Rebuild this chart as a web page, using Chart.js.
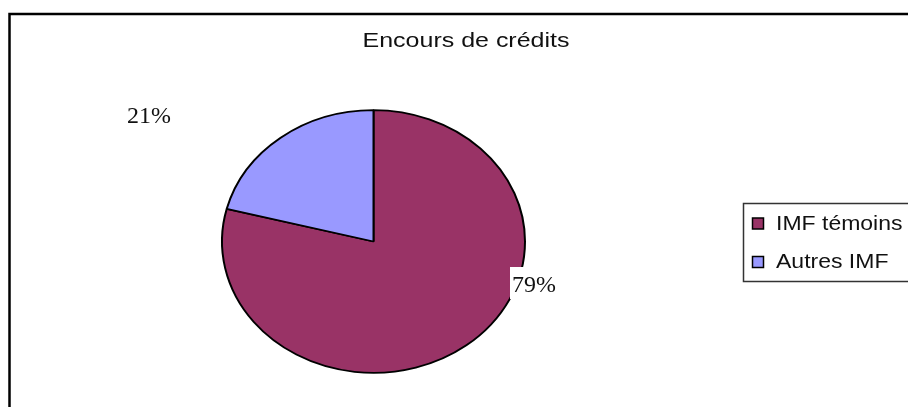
<!DOCTYPE html>
<html>
<head>
<meta charset="utf-8">
<script src="https://cdn.jsdelivr.net/npm/chart.js@4"></script>
<style>
  html, body { margin: 0; padding: 0; background: #fff; overflow: hidden; }
  canvas { display: block; }
</style>
</head>
<body>
<canvas id="chart1" width="908" height="407"></canvas>
<script>
const labels = ["IMF témoins", "Autres IMF"];
const values = [79, 21];
const colors = ["#993366", "#9999FF"];
const pctLabels = ["79%", "21%"];
const title = "Encours de crédits";

// squash the pie vertically like the original (ellipse)
const squash = {
  id: "squash",
  beforeDatasetsDraw(chart) {
    const ctx = chart.ctx;
    const cy = (chart.chartArea.top + chart.chartArea.bottom) / 2;
    ctx.save();
    ctx.translate(0, cy);
    ctx.scale(1, 0.867);
    ctx.translate(0, -cy);
  },
  afterDatasetsDraw(chart) {
    chart.ctx.restore();
  },
};

// text is a bit stretched sideways in the original
function wideText(ctx, txt, x, y, sx) {
  ctx.save();
  ctx.translate(x, y);
  ctx.scale(sx, 1);
  ctx.fillText(txt, 0, 0);
  ctx.restore();
}

const decor = {
  id: "decor",
  beforeDraw(chart) {
    const ctx = chart.ctx;
    ctx.save();
    ctx.fillStyle = "#fff";
    ctx.fillRect(0, 0, chart.width, chart.height);
    // outer frame
    ctx.strokeStyle = "#000";
    ctx.lineWidth = 2.5;
    ctx.strokeRect(9.5, 14, 1000, 600);
    ctx.restore();
  },
  afterDraw(chart) {
    const ctx = chart.ctx;
    ctx.save();
    // title
    ctx.fillStyle = "#111";
    ctx.font = "21px 'Liberation Sans', Arial, sans-serif";
    ctx.textAlign = "center";
    ctx.textBaseline = "alphabetic";
    wideText(ctx, title, 466, 47, 1.19);

    // percent labels
    ctx.textAlign = "left";
    ctx.font = "23px 'Liberation Serif', 'Times New Roman', serif";
    wideText(ctx, pctLabels[1], 127, 123, 1.04);
    ctx.fillStyle = "#fff";
    ctx.fillRect(510, 267, 50, 32);
    ctx.fillStyle = "#111";
    wideText(ctx, pctLabels[0], 512, 292, 1.04);

    // legend
    ctx.fillStyle = "#fff";
    ctx.fillRect(743, 203, 170, 78);
    ctx.strokeStyle = "#333";
    ctx.lineWidth = 1.5;
    ctx.strokeRect(743.5, 203.5, 170, 78);
    ctx.font = "20px 'Liberation Sans', Arial, sans-serif";
    labels.forEach((lab, i) => {
      const y = 223.5 + i * 38.5;
      ctx.fillStyle = colors[i];
      ctx.fillRect(752.5, y - 5.5, 11, 11);
      ctx.strokeStyle = "#000";
      ctx.lineWidth = 1.5;
      ctx.strokeRect(752.5, y - 5.5, 11, 11);
      ctx.fillStyle = "#111";
      wideText(ctx, lab, 776, y + 6, 1.15);
    });
    ctx.restore();
  },
};

const canvas1 = document.getElementById("chart1");
const chart1 = new Chart(canvas1, {
  type: "pie",
  data: {
    labels: labels,
    datasets: [
      {
        data: values,
        backgroundColor: colors,
        borderColor: "#000",
        borderWidth: 2,
      },
    ],
  },
  options: {
    responsive: false,
    animation: false,
    devicePixelRatio: 1,
    layout: { padding: { left: 221, right: 382, top: 89, bottom: 13 } },
    plugins: {
      legend: { display: false },
      title: { display: false },
      tooltip: { enabled: false },
    },
  },
  plugins: [decor, squash],
});
</script>
</body>
</html>
